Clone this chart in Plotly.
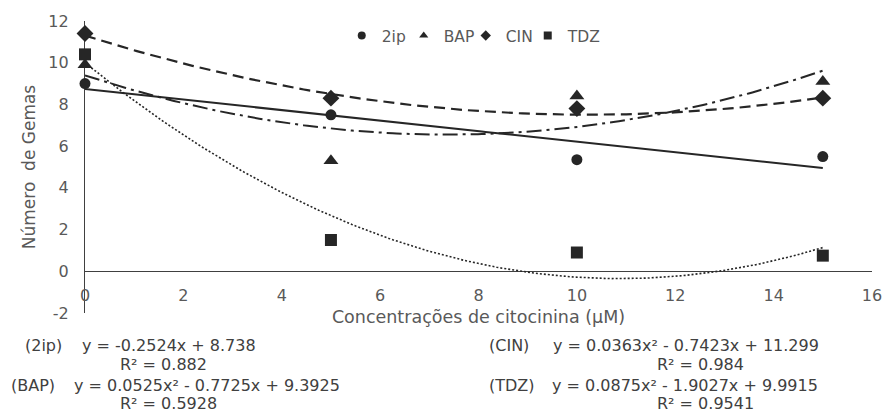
import numpy as np
import plotly.graph_objects as go

# ---- data ----
conc = [0, 5, 10, 15]
gemas_2ip = [9.0, 7.5, 5.35, 5.5]
gemas_bap = [9.9, 5.3, 8.4, 9.1]
gemas_cin = [11.4, 8.3, 7.8, 8.3]
gemas_tdz = [10.4, 1.5, 0.9, 0.75]

series_names = ["2ip", "BAP", "CIN", "TDZ"]

# trendline coefficients as printed on the chart (highest power first)
coef_2ip = [-0.2524, 8.738]
coef_bap = [0.0525, -0.7725, 9.3925]
coef_cin = [0.0363, -0.7423, 11.299]
coef_tdz = [0.0875, -1.9027, 9.9915]

eq_labels = ["(2ip)", "(BAP)", "(CIN)", "(TDZ)"]
eq_texts = [
    "y = -0.2524x + 8.738",
    "y = 0.0525x² - 0.7725x + 9.3925",
    "y = 0.0363x² - 0.7423x + 11.299",
    "y = 0.0875x² - 1.9027x + 9.9915",
]
r2_texts = ["R² = 0.882", "R² = 0.5928", "R² = 0.984", "R² = 0.9541"]

x_ticks = [0, 2, 4, 6, 8, 10, 12, 14, 16]
y_ticks = [-2, 0, 2, 4, 6, 8, 10, 12]

# ---- styling ----
FONT = "DejaVu Sans"
INK = "#262626"
GREY = "#595959"
TXT = "#404040"

W, H = 894, 415
ML, MR, MT, MB = 85, 12, 21, 101.5
PW, PH = W - ML - MR, H - MT - MB


def px(x):
    return (x - ML) / PW


def py(y):
    return (MT + PH - y) / PH


fig = go.Figure()

datasets = [gemas_2ip, gemas_bap, gemas_cin, gemas_tdz]
coefs = [coef_2ip, coef_bap, coef_cin, coef_tdz]
symbols = ["circle", "triangle-up", "diamond", "square"]
msizes = [11, 13, 13, 12]
dashes = ["solid", "15px,5px,3px,5px", "11px,6px", "2px,2px"]
widths = [2.0, 2.0, 2.2, 1.6]

xfit = np.linspace(min(conc), max(conc), 200)
for name, data, cf, dash, lw in zip(series_names, datasets, coefs, dashes, widths):
    fig.add_trace(go.Scatter(
        x=xfit, y=np.polyval(cf, xfit), mode="lines",
        line=dict(color=INK, width=lw, dash=dash),
        showlegend=False, hoverinfo="skip", name="Tendência " + name,
    ))

for name, data, sym, ms in zip(series_names, datasets, symbols, msizes):
    fig.add_trace(go.Scatter(
        x=conc, y=data, mode="markers", name=name,
        marker=dict(symbol=sym, size=ms, color=INK),
        cliponaxis=False, showlegend=False,
    ))

# small legend markers
for name, sym in zip(series_names, symbols):
    fig.add_trace(go.Scatter(
        x=[None], y=[None], mode="markers", name=name,
        marker=dict(symbol=sym, size=8, color=INK),
        showlegend=True,
    ))
# invisible spacer entry so the last legend label is not clipped
fig.add_trace(go.Scatter(
    x=[None], y=[None], mode="markers", name=" ",
    marker=dict(size=1, color="rgba(0,0,0,0)"), showlegend=True, hoverinfo="skip",
))

annotations = []
eq_pos = [  # (label_x, eq_x, r2_x, eq_y, r2_y) in pixels
    (22, 80, 118, 346, 365),
    (8, 72, 118, 386, 404),
    (492, 557, 662, 346, 365),
    (492, 556, 662, 386, 404),
]
for lab, eq, r2, (lx, ex, rx, ey, ry) in zip(eq_labels, eq_texts, r2_texts, eq_pos):
    for t, x, y in ((lab, lx, ey), (eq, ex, ey), (r2, rx, ry)):
        annotations.append(dict(
            text=t, x=px(x), y=py(y), xref="paper", yref="paper",
            xanchor="left", yanchor="middle", showarrow=False,
            font=dict(family=FONT, size=16, color=TXT),
        ))

fig.update_layout(
    width=W, height=H,
    margin=dict(l=ML, r=MR, t=MT, b=MB),
    paper_bgcolor="white", plot_bgcolor="white",
    font=dict(family=FONT, size=16, color=GREY),
    showlegend=True,
    legend=dict(
        orientation="h", x=px(345), y=py(36), xanchor="left", yanchor="middle",
        font=dict(family=FONT, size=15.5, color=GREY),
        bgcolor="rgba(0,0,0,0)", entrywidth=17, itemwidth=30,
        tracegroupgap=0,
    ),
    annotations=annotations,
    xaxis=dict(
        range=[0, 16], tickvals=x_ticks, ticktext=[str(v) for v in x_ticks],
        showgrid=False, zeroline=False, showline=True, linecolor="#404040",
        linewidth=1.3, anchor="free", position=2 / 14, ticks="",
        ticklabelstandoff=9, layer="below traces",
        title=dict(text="Concentrações de citocinina (µM)", standoff=7,
                   font=dict(family=FONT, size=17.5, color=GREY)),
        tickfont=dict(family=FONT, size=16, color=GREY),
    ),
    yaxis=dict(
        range=[-2, 12], tickvals=y_ticks, ticktext=[str(v) for v in y_ticks],
        showgrid=False, zeroline=False, showline=True, linecolor="#404040",
        linewidth=1.3, ticks="", ticklabelstandoff=12, layer="below traces",
        title=dict(text="Número  de Gemas", standoff=8,
                   font=dict(family=FONT, size=17, color=GREY)),
        tickfont=dict(family=FONT, size=16, color=GREY),
    ),
)

fig.write_html("out.html")
